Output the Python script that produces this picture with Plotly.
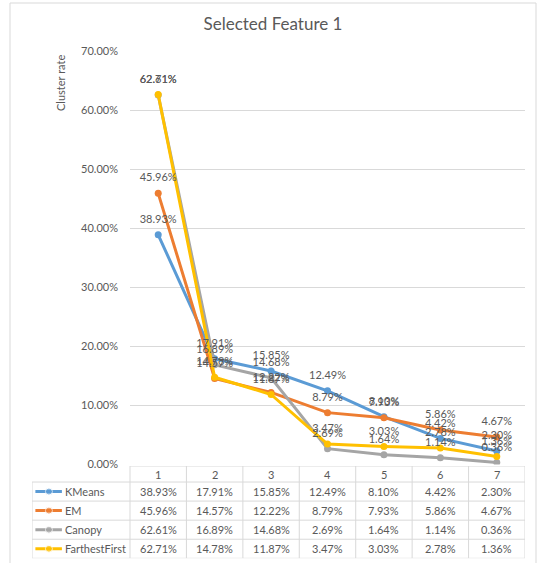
import plotly.graph_objects as go

categories = ["1", "2", "3", "4", "5", "6", "7"]
series_names = ["KMeans", "EM", "Canopy", "FarthestFirst"]
kmeans = [38.93, 17.91, 15.85, 12.49, 8.10, 4.42, 2.30]
em = [45.96, 14.57, 12.22, 8.79, 7.93, 5.86, 4.67]
canopy = [62.61, 16.89, 14.68, 2.69, 1.64, 1.14, 0.36]
farthest = [62.71, 14.78, 11.87, 3.47, 3.03, 2.78, 1.36]
y_ticks = [0, 10, 20, 30, 40, 50, 60, 70]

series = [kmeans, em, canopy, farthest]
colors = ["#5B9BD5", "#ED7D31", "#A5A5A5", "#FFC000"]

W, H = 537, 563
FONT = "Lato, 'Open Sans', sans-serif"
TXT = "#595959"
GRID = "#D9D9D9"

def px_x(p):
    return p / W

def px_y(p):
    return (H - p) / H

xs = list(range(len(categories)))
legend_units = 98 / 56.43
x2_left = -0.5 - legend_units
head_h = 0.84

fig = go.Figure()

for name, vals, col in zip(series_names, series, colors):
    fig.add_trace(go.Scatter(
        x=xs, y=[v / 100 for v in vals], name=name, mode="lines+markers",
        line=dict(color=col, width=3), marker=dict(color=col, size=7),
        showlegend=False, xaxis="x", yaxis="y"))

# data labels on top of all lines (invisible bigger marker pushes text up a bit)
for name, vals in zip(series_names, series):
    fig.add_trace(go.Scatter(
        x=xs, y=[v / 100 for v in vals], mode="markers+text",
        text=[f"{v:.2f}%" for v in vals], textposition="top center",
        textfont=dict(family=FONT, size=11, color=TXT),
        marker=dict(size=13, opacity=0), cliponaxis=False,
        showlegend=False, hoverinfo="skip", xaxis="x", yaxis="y"))

# data table below the plot
for i, (name, vals, col) in enumerate(zip(series_names, series, colors)):
    yc = -(i + 0.5)
    fig.add_trace(go.Scatter(
        x=[x2_left + 0.06, x2_left + 0.3, x2_left + 0.53], y=[yc] * 3,
        mode="lines+markers", line=dict(color=col, width=3),
        marker=dict(color=col, size=[0, 7, 0]),
        showlegend=False, hoverinfo="skip", xaxis="x2", yaxis="y2"))
    fig.add_annotation(x=x2_left + 0.55, y=yc, xref="x2", yref="y2", text=name,
                       showarrow=False, xanchor="left",
                       font=dict(family=FONT, size=11, color=TXT))
    for xi, v in zip(xs, vals):
        fig.add_annotation(x=xi, y=yc, xref="x2", yref="y2", text=f"{v:.2f}%",
                           showarrow=False, font=dict(family=FONT, size=11, color=TXT))

for xi, c in zip(xs, categories):
    fig.add_annotation(x=xi, y=head_h / 2, xref="x2", yref="y2", text=c,
                       showarrow=False, font=dict(family=FONT, size=11, color=TXT))

line_style = dict(color=GRID, width=1)
# horizontal borders
fig.add_shape(type="line", xref="x2", yref="y2", x0=-0.5, x1=len(xs) - 0.5,
              y0=head_h, y1=head_h, line=line_style)
for r in range(len(series) + 1):
    fig.add_shape(type="line", xref="x2", yref="y2", x0=x2_left, x1=len(xs) - 0.5,
                  y0=-r, y1=-r, line=line_style)
# vertical borders
fig.add_shape(type="line", xref="x2", yref="y2", x0=x2_left, x1=x2_left,
              y0=0, y1=-len(series), line=line_style)
for c in range(len(xs) + 1):
    fig.add_shape(type="line", xref="x2", yref="y2", x0=c - 0.5, x1=c - 0.5,
                  y0=head_h, y1=-len(series), line=line_style)

# chart border
fig.add_shape(type="rect", xref="paper", yref="paper",
              x0=px_x(10), x1=px_x(536), y0=px_y(566), y1=px_y(3),
              line=dict(color=GRID, width=1))

fig.add_annotation(x=px_x(60), y=px_y(83), xref="paper", yref="paper",
                   xanchor="center", yanchor="middle",
                   text="Cluster rate", textangle=-90, showarrow=False,
                   font=dict(family=FONT, size=11, color=TXT))

fig.update_layout(
    template="none",
    width=W, height=H,
    margin=dict(l=0, r=0, t=0, b=0, autoexpand=False),
    paper_bgcolor="white", plot_bgcolor="white",
    title=dict(text="Selected Feature 1", x=px_x(273), xanchor="center",
               y=px_y(24), yanchor="middle",
               font=dict(family=FONT, size=17, color=TXT)),
    xaxis=dict(domain=[px_x(130), px_x(525)], range=[-0.5, len(xs) - 0.5],
               showticklabels=False, showgrid=False, zeroline=False,
               showline=False, ticks="", automargin=False),
    yaxis=dict(domain=[px_y(464.5), px_y(51.5)], range=[0, 0.70],
               tickvals=[t / 100 for t in y_ticks], tickformat=".2%",
               showgrid=True, gridcolor=GRID, gridwidth=1, zeroline=False,
               showline=False, ticks="", ticklabelstandoff=11, automargin=False,
               tickfont=dict(family=FONT, size=11, color=TXT)),
    xaxis2=dict(domain=[px_x(32), px_x(525)], range=[x2_left, len(xs) - 0.5],
                visible=False, anchor="y2", automargin=False),
    yaxis2=dict(domain=[px_y(558.3), px_y(466)], range=[-len(series), head_h],
                visible=False, anchor="x2", automargin=False),
)

fig.write_html("out.html", config={"displayModeBar": False},
               post_script="document.body.style.margin='0';")
